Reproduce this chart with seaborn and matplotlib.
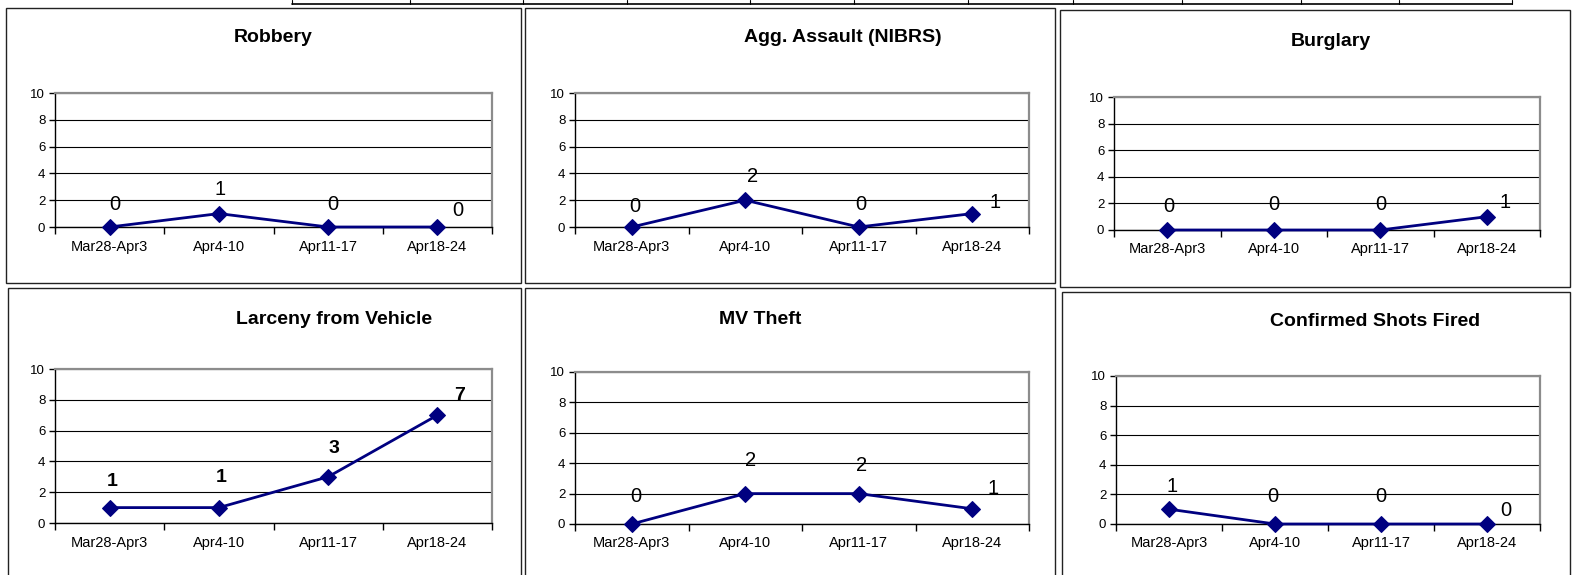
import matplotlib
matplotlib.use('Agg')
import matplotlib.pyplot as plt
from matplotlib.patches import Rectangle
from matplotlib.lines import Line2D
import seaborn as sns
import pandas as pd

sns.set_theme(style='white')
plt.rcParams['font.family'] = ['Liberation Sans', 'DejaVu Sans']

# ── Data ──────────────────────────────────────────────────────────────────────
weeks = ['Mar28-Apr3', 'Apr4-10', 'Apr11-17', 'Apr18-24']
titles = ['Robbery', 'Agg. Assault (NIBRS)', 'Burglary',
          'Larceny from Vehicle', 'MV Theft', 'Confirmed Shots Fired']
robbery = [0, 1, 0, 0]
agg_assault = [0, 2, 0, 1]
burglary = [0, 0, 0, 1]
larceny_vehicle = [1, 1, 3, 7]
mv_theft = [0, 2, 2, 1]
shots_fired = [1, 0, 0, 0]
series = [robbery, agg_assault, burglary, larceny_vehicle, mv_theft, shots_fired]

# ── Layout (pixel boxes, figure is 1577x575) ─────────────────────────────────
W, H = 1577, 575
# plot area: left, right, top, bottom
axes_px = [(55, 492, 93, 227), (575, 1029, 93, 227), (1114, 1540, 97, 230),
           (55, 492, 369, 523), (575, 1029, 372, 524), (1116, 1540, 376, 524)]
# panel frames: left, right, top, bottom
frames_px = [(6, 521, 8, 283), (525, 1055, 8, 283), (1060, 1570, 10, 287),
             (8, 521, 288, 590), (525, 1055, 288, 590), (1062, 1570, 292, 590)]
title_px = [(273, 38), (843, 38), (1331, 41), (334, 319), (760, 320), (1375, 322)]
# data label offsets (pixels right, pixels up) per point
label_off = [[(5, 22), (1, 24), (5, 22), (20, 16)],
             [(3, 20), (7, 24), (2, 22), (23, 11)],
             [(2, 24), (0, 25), (1, 25), (18, 14)],
             [(3, 26), (2, 30), (6, 28), (22, 20)],
             [(4, 27), (5, 33), (3, 28), (21, 20)],
             [(3, 23), (-2, 27), (0, 27), (19, 13)]]
bold_labels = [False, False, False, True, False, False]

NAVY = '#000080'
xpos = [i + 0.5 for i in range(len(weeks))]

fig = plt.figure(figsize=(W / 100, H / 100), dpi=100)
fig.patch.set_facecolor('white')

# strip of table cells at the very top
strip_x = [292, 410, 523, 627, 750, 854, 968, 1073, 1182, 1301, 1399, 1512]
fig.add_artist(Line2D([strip_x[0] / W, strip_x[-1] / W], [1 - 4 / H, 1 - 4 / H],
                      color='black', lw=1.2, transform=fig.transFigure))
for sx in strip_x:
    fig.add_artist(Line2D([sx / W, sx / W], [1 - 4 / H, 1.0], color='black',
                          lw=0.8, transform=fig.transFigure))

for k, vals in enumerate(series):
    fl, fr, ft, fb = frames_px[k]
    fig.add_artist(Rectangle((fl / W, 1 - fb / H), (fr - fl) / W, (fb - ft) / H,
                             fill=False, edgecolor='#222222', lw=1.0,
                             transform=fig.transFigure))

    l, r, t, b = axes_px[k]
    ax = fig.add_axes([l / W, 1 - b / H, (r - l) / W, (b - t) / H])
    df = pd.DataFrame({'x': xpos, 'count': vals})
    sns.lineplot(data=df, x='x', y='count', ax=ax, color=NAVY, lw=2,
                 marker='D', markersize=8, markeredgecolor=NAVY, clip_on=False,
                 zorder=5)

    ax.set_xlim(0, 4)
    ax.set_ylim(0, 10)
    ax.set_yticks(range(0, 11, 2))
    ax.set_xticks(range(5))
    ax.set_xticklabels([])
    ax.set_xticks(xpos, minor=True)
    ax.set_xticklabels(weeks, minor=True, fontsize=10.5)
    ax.tick_params(axis='x', which='major', direction='out', length=5,
                   width=1, color='black', bottom=True)
    ax.tick_params(axis='x', which='minor', length=0, pad=9, labelcolor='black')
    ax.tick_params(axis='y', direction='out', length=4, width=1, left=True,
                   labelsize=9.5, pad=3, labelcolor='black', color='black')
    ax.set_xlabel('')
    ax.set_ylabel('')

    ax.yaxis.grid(True, color='black', lw=0.8)
    ax.set_axisbelow(True)
    for side in ['left', 'bottom']:
        ax.spines[side].set_color('black')
        ax.spines[side].set_linewidth(1.0)
    for side in ['top', 'right']:
        ax.spines[side].set_color('#8c8c8c')
        ax.spines[side].set_linewidth(1.6)

    for i, v in enumerate(vals):
        dx, dy = label_off[k][i]
        ax.annotate(str(v), (xpos[i], v), xytext=(dx, dy),
                    textcoords='offset pixels', ha='center', va='center',
                    fontsize=14 if bold_labels[k] else 14.5,
                    fontweight='bold' if bold_labels[k] else 'normal',
                    color='black', annotation_clip=False)

    tx, ty = title_px[k]
    fig.text(tx / W, 1 - ty / H, titles[k], ha='center', va='center',
             fontsize=14, fontweight='bold', color='black')

fig.savefig('out.png', dpi=100, facecolor='white')
